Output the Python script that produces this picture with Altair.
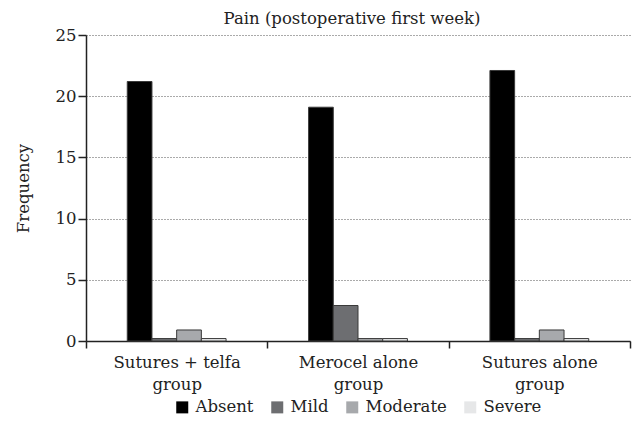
import altair as alt
import pandas as pd

groups = ["Sutures + telfa\ngroup", "Merocel alone\ngroup", "Sutures alone\ngroup"]
severities = ["Absent", "Mild", "Moderate", "Severe"]
absent = [21.2, 19.1, 22.1]
mild = [0.2, 2.9, 0.2]
moderate = [0.9, 0.2, 0.9]
severe = [0.2, 0.2, 0.2]
colors = ["#000000", "#6d6e71", "#a7a9ac", "#e6e7e8"]

rows = []
for i, g in enumerate(groups):
    for s, vals in zip(severities, [absent, mild, moderate, severe]):
        rows.append({"group": g, "severity": s, "value": vals[i]})
df = pd.DataFrame(rows)

FONT = "DejaVu Serif"
FS = 16.5
offset_domain = ["_l"] + severities + ["_r"]

chart = alt.Chart(df).mark_bar(stroke="#3a3a3a", strokeWidth=1).encode(
    x=alt.X("group:N", sort=groups, title=None,
            scale=alt.Scale(paddingInner=0, paddingOuter=0),
            axis=alt.Axis(labelExpr="split(datum.label, '\\n')", labelAngle=0,
                          tickBand="extent", labelFontSize=FS, labelFont=FONT,
                          labelColor="#222", labelPadding=6, tickSize=7,
                          domainColor="#222", tickColor="#222", domainWidth=1.5,
                          tickWidth=1.5, labelLineHeight=22, grid=False)),
    xOffset=alt.XOffset("severity:N",
                        scale=alt.Scale(domain=offset_domain, paddingInner=0, paddingOuter=0.67)),
    y=alt.Y("value:Q", title="Frequency",
            scale=alt.Scale(domain=[0, 25]),
            axis=alt.Axis(values=[0, 5, 10, 15, 20, 25], labelFontSize=FS,
                          labelFont=FONT, labelColor="#222", titleFont=FONT,
                          titleFontSize=FS, titleFontWeight="normal", titleColor="#222",
                          titlePadding=24, tickSize=8, tickColor="#222",
                          domainColor="#222", domainWidth=1.5, tickWidth=1.5,
                          gridDash=[1, 2], gridColor="#555", gridWidth=1)),
    color=alt.Color("severity:N", sort=severities,
                    scale=alt.Scale(domain=severities, range=colors),
                    legend=alt.Legend(title=None, orient="none", direction="horizontal",
                                      legendX=88, legendY=364, symbolType="square",
                                      symbolSize=144, symbolStrokeWidth=0,
                                      labelFont=FONT, labelFontSize=FS, labelColor="#222",
                                      columnPadding=15, symbolOffset=0, labelOffset=5)),
).properties(
    width=544, height=306,
    title=alt.Title("Pain (postoperative first week)", font=FONT, fontSize=FS,
                    fontWeight="normal", color="#222", offset=0, dx=-6),
    autosize=alt.AutoSizeParams(type="none"),
    padding={"left": 78, "top": 27, "right": 2, "bottom": 80},
).configure_view(stroke=None)

chart.save("out.html", embed_options={"renderer": "svg", "actions": False})
